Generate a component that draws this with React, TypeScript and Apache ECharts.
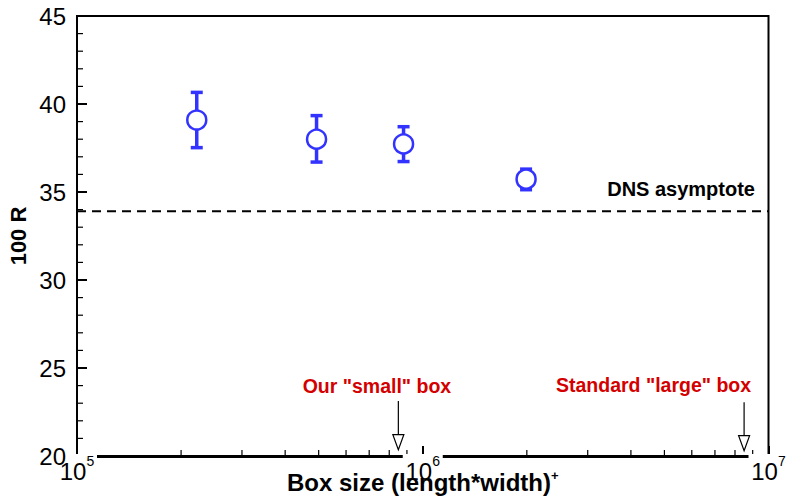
import React, { useEffect, useRef } from 'react';
import * as echarts from 'echarts';

// ---- data ----
const boxSize = [2.22e5, 4.93e5, 8.8e5, 1.99e6];
const r100 = [39.09, 38.0, 37.73, 35.73];
const r100Low = [37.52, 36.7, 36.73, 35.13];
const r100High = [40.66, 39.34, 38.71, 36.3];
const dnsAsymptote = 33.9;
const xRange = [1e5, 1e7];
const yRange = [20, 45];
const yMajorStep = 5;
const xMajorTicks = [1e5, 1e6, 1e7];
const xMinorTicks = [2e5, 3e5, 4e5, 5e5, 6e5, 7e5, 8e5, 9e5, 2e6, 3e6, 4e6, 5e6, 6e6, 7e6, 8e6, 9e6];
const yMajorTicks = [20, 25, 30, 35, 40, 45];
const yMinorTicks = [21, 22, 23, 24, 26, 27, 28, 29, 31, 32, 33, 34, 36, 37, 38, 39, 41, 42, 43, 44];
const arrowTargetX = [8.5e5, 8.5e6];
const arrowTopY = [23.13, 23.05];
const arrowTipY = [20.36, 20.3];
const noteTexts = ['Our "small" box', 'Standard "large" box'];
const noteX = [7.37e5, 4.65e6];
const noteY = [24.0, 24.05];
const dnsLabel = 'DNS asymptote';
const dnsLabelX = [9.14e6];
const dnsLabelY = [35.17];
const xTitle = 'Box size (length*width)';
const xTitleSup = '+';
const yTitle = '100 R';

const BLUE = '#3333ff';
const RED = '#d40000';
const FONT = '"Liberation Sans", Arial, Helvetica, sans-serif';

export default function App() {
  const ref = useRef<HTMLDivElement>(null);

  useEffect(() => {
    if (!ref.current) return;
    const chart = echarts.init(ref.current, null, { renderer: 'svg' });

    const baseX = {
      type: 'log',
      logBase: 10,
      min: xRange[0],
      max: xRange[1],
      gridIndex: 0,
      position: 'bottom',
      splitLine: { show: false },
      minorTick: { show: false },
    };
    const baseY = {
      type: 'value',
      min: yRange[0],
      max: yRange[1],
      interval: yMajorStep,
      gridIndex: 0,
      position: 'left',
      splitLine: { show: false },
      minorSplitLine: { show: false },
    };

    // y-axis ticks pointing inward: major 10px, minor 6px
    const yTickData = [
      ...yMajorTicks.map((v) => [xRange[0], v, 10]),
      ...yMinorTicks.map((v) => [xRange[0], v, 6]),
    ];

    const option: any = {
      animation: false,
      backgroundColor: '#fff',
      grid: {
        left: 77,
        right: 18.5,
        top: 16,
        bottom: 42,
        show: true,
        borderColor: '#000',
        borderWidth: 2,
        backgroundColor: 'transparent',
        containLabel: false,
        outerBoundsMode: 'none',
      },
      xAxis: [
        {
          ...baseX,
          z: 0,
          axisLine: { show: true, lineStyle: { color: '#000', width: 3 } },
          axisTick: { show: true, inside: true, length: 10, lineStyle: { color: '#000', width: 2 } },
          axisLabel: { show: false },
        },
        {
          ...baseX,
          z: 6,
          axisLine: { show: false },
          axisTick: { show: false },
          axisLabel: {
            show: true,
            margin: -2,
            formatter: (v: number) => `{b|10}{s|${Math.round(Math.log10(v))}}`,
            rich: {
              b: { fontFamily: FONT, fontSize: 24, lineHeight: 35, color: '#000' },
              s: { fontFamily: FONT, fontSize: 14, lineHeight: 14, verticalAlign: 'top', color: '#000' },
            },
          },
          name: `{t|${xTitle}}{p|${xTitleSup}}`,
          nameLocation: 'middle',
          nameGap: 13,
          nameMoveOverlap: false,
          nameTextStyle: {
            rich: {
              t: { fontFamily: FONT, fontWeight: 'bold', fontSize: 24, lineHeight: 26, color: '#000' },
              p: { fontFamily: FONT, fontWeight: 'bold', fontSize: 13, lineHeight: 13, verticalAlign: 'top', color: '#000' },
            },
          },
        },
      ],
      yAxis: [
        {
          ...baseY,
          z: 0,
          name: yTitle,
          nameLocation: 'middle',
          nameRotate: 90,
          nameGap: 48,
          nameMoveOverlap: false,
          nameTextStyle: { fontFamily: FONT, fontWeight: 'bold', fontSize: 22, color: '#000' },
          axisLine: { show: true, onZero: false, lineStyle: { color: '#000', width: 2 } },
          axisTick: { show: false },
          minorTick: { show: false },
          axisLabel: { show: false },
        },
        {
          ...baseY,
          z: 7,
          axisLine: { show: false },
          axisTick: { show: false },
          minorTick: { show: false },
          axisLabel: { show: true, margin: 11, fontFamily: FONT, fontSize: 24, color: '#000' },
        },
      ],
      series: [
        {
          name: 'DNS asymptote',
          type: 'line',
          data: [[xRange[0], dnsAsymptote], [xRange[1], dnsAsymptote]],
          symbol: 'none',
          silent: true,
          lineStyle: { color: '#000', width: 2, type: [9, 6] },
          z: 2,
        },
        {
          name: 'x minor ticks',
          type: 'custom',
          silent: true,
          data: xMinorTicks.map((v) => [v, yRange[0]]),
          encode: { x: 0, y: 1 },
          renderItem: (_p: any, api: any) => {
            const p = api.coord([api.value(0), api.value(1)]);
            return {
              type: 'line',
              shape: { x1: p[0], y1: p[1], x2: p[0], y2: p[1] - 6 },
              style: { stroke: '#000', lineWidth: 1.2 },
            };
          },
          z: 2,
        },
        {
          name: 'y ticks',
          type: 'custom',
          silent: true,
          clip: false,
          data: yTickData,
          encode: { x: 0, y: 1 },
          renderItem: (_p: any, api: any) => {
            const p = api.coord([api.value(0), api.value(1)]);
            const len = api.value(2);
            const h = len > 8 ? 2 : 1.2;
            return {
              type: 'rect',
              shape: { x: p[0], y: p[1] - h / 2, width: len, height: h },
              style: { fill: '#000' },
            };
          },
          z: 4,
        },
        {
          name: 'label masks',
          type: 'custom',
          silent: true,
          data: xMajorTicks.map((v) => [v, yRange[0]]),
          encode: { x: 0, y: 1 },
          renderItem: (_p: any, api: any) => {
            const p = api.coord([api.value(0), api.value(1)]);
            return {
              type: 'rect',
              shape: { x: p[0] - 20, y: p[1] - 2, width: 40, height: 7 },
              style: { fill: '#fff' },
            };
          },
          z: 5,
        },
        {
          name: 'error bars',
          type: 'custom',
          silent: true,
          data: boxSize.map((x, i) => [x, r100[i], r100Low[i], r100High[i]]),
          encode: { x: 0, y: 1 },
          renderItem: (_p: any, api: any) => {
            const x = api.value(0);
            const top = api.coord([x, api.value(3)]);
            const bot = api.coord([x, api.value(2)]);
            const hw = 6;
            const st = { stroke: BLUE, lineWidth: 3.5 };
            return {
              type: 'group',
              children: [
                { type: 'line', shape: { x1: top[0], y1: top[1], x2: bot[0], y2: bot[1] }, style: st },
                { type: 'line', shape: { x1: top[0] - hw, y1: top[1], x2: top[0] + hw, y2: top[1] }, style: st },
                { type: 'line', shape: { x1: bot[0] - hw, y1: bot[1], x2: bot[0] + hw, y2: bot[1] }, style: st },
              ],
            };
          },
          z: 3,
        },
        {
          name: '100 R',
          type: 'scatter',
          data: boxSize.map((x, i) => [x, r100[i]]),
          symbol: 'circle',
          symbolSize: 19,
          itemStyle: { color: '#fff', borderColor: BLUE, borderWidth: 2.5, opacity: 1 },
          z: 4,
        },
        {
          name: 'arrows',
          type: 'custom',
          silent: true,
          data: arrowTargetX.map((x, i) => [x, arrowTipY[i], arrowTopY[i]]),
          encode: { x: 0, y: 1 },
          renderItem: (_p: any, api: any) => {
            const x = api.value(0);
            const tip = api.coord([x, api.value(1)]);
            const top = api.coord([x, api.value(2)]);
            const headLen = 15;
            const hw = 5.5;
            return {
              type: 'group',
              children: [
                {
                  type: 'line',
                  shape: { x1: top[0], y1: top[1], x2: tip[0], y2: tip[1] - headLen },
                  style: { stroke: '#000', lineWidth: 1.2 },
                },
                {
                  type: 'polygon',
                  shape: {
                    points: [
                      [tip[0] - hw, tip[1] - headLen],
                      [tip[0] + hw, tip[1] - headLen],
                      [tip[0], tip[1]],
                    ],
                  },
                  style: { fill: '#fff', stroke: '#000', lineWidth: 1.2 },
                },
              ],
            };
          },
          z: 5,
        },
        {
          name: 'notes',
          type: 'custom',
          silent: true,
          data: noteX.map((x, i) => [x, noteY[i], i]),
          encode: { x: 0, y: 1 },
          renderItem: (_p: any, api: any) => {
            const p = api.coord([api.value(0), api.value(1)]);
            return {
              type: 'text',
              x: p[0],
              y: p[1],
              style: {
                text: noteTexts[api.value(2)],
                fill: RED,
                font: `bold 19.5px ${FONT}`,
                align: 'center',
                verticalAlign: 'middle',
              },
            };
          },
          z: 5,
        },
        {
          name: 'dns label',
          type: 'custom',
          silent: true,
          data: dnsLabelX.map((x, i) => [x, dnsLabelY[i]]),
          encode: { x: 0, y: 1 },
          renderItem: (_p: any, api: any) => {
            const p = api.coord([api.value(0), api.value(1)]);
            return {
              type: 'text',
              x: p[0],
              y: p[1],
              style: {
                text: dnsLabel,
                fill: '#000',
                font: `bold 20px ${FONT}`,
                align: 'right',
                verticalAlign: 'middle',
              },
            };
          },
          z: 5,
        },
      ],
    };

    chart.setOption(option);
    return () => chart.dispose();
  }, []);

  return (
    <div
      ref={ref}
      style={{ position: 'fixed', left: 0, top: 0, width: 787, height: 498, background: '#fff' }}
    />
  );
}
